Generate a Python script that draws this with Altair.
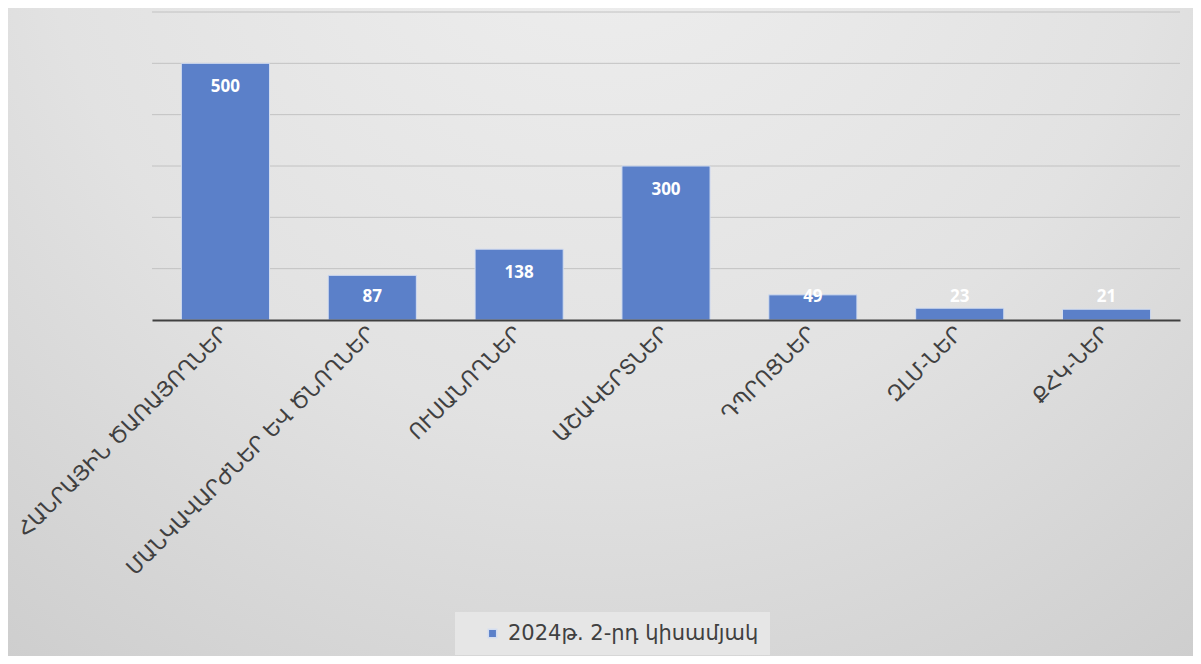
import altair as alt
import pandas as pd

categories = [
    "ՀԱՆՐԱՅԻՆ ԾԱՌԱՅՈՂՆԵՐ",
    "ՄԱՆԿԱՎԱՐԺՆԵՐ ԵՎ ԾՆՈՂՆԵՐ",
    "ՈՒՍԱՆՈՂՆԵՐ",
    "ԱՇԱԿԵՐՏՆԵՐ",
    "ԴՊՐՈՑՆԵՐ",
    "ԶԼՄ-ՆԵՐ",
    "ՔՀԿ-ՆԵՐ",
]
values = [500, 87, 138, 300, 49, 23, 21]
series_name = "2024թ. 2-րդ կիսամյակ"
y_ticks = [100, 200, 300, 400, 500, 600]

df = pd.DataFrame({"category": categories, "value": values, "series": series_name})
grid_df = pd.DataFrame({"tick": y_ticks})

W, H = 1028, 308
PAD_L, PAD_T, PAD_R, PAD_B = 144, 4, 13, 336
TOTAL_W = W + PAD_L + PAD_R
TOTAL_H = H + PAD_T + PAD_B

gradient = {
    "gradient": "radial",
    "x1": 0.5, "y1": 0.1, "r1": 0.0,
    "x2": 0.5, "y2": 0.1, "r2": 0.95,
    "stops": [
        {"offset": 0.0, "color": "#efefef"},
        {"offset": 0.5, "color": "#e2e2e2"},
        {"offset": 1.0, "color": "#c8c8c8"},
    ],
}

bg = alt.Chart(alt.Data(values=[{}])).mark_rect(color=gradient).encode(
    x=alt.value(-PAD_L), x2=alt.value(TOTAL_W - PAD_L),
    y=alt.value(-PAD_T), y2=alt.value(TOTAL_H - PAD_T),
)

grid = alt.Chart(grid_df).mark_rule(color="#c2c2c2", strokeWidth=1).encode(
    y=alt.Y("tick:Q", axis=None, scale=alt.Scale(domain=[0, 600])),
)

x_enc = alt.X(
    "category:N", sort=categories,
    scale=alt.Scale(paddingInner=0.4, paddingOuter=0.2),
    axis=alt.Axis(
        title=None, labelAngle=-45, labelAlign="right", labelBaseline="middle",
        labelFont="DejaVu Sans", labelFontSize=21, labelColor="#404040",
        labelPadding=10, labelLimit=600, ticks=False, grid=False,
        domainColor="#404040", domainWidth=2, zindex=1,
    ),
)

bars = alt.Chart(df).mark_bar(stroke="#d3ddf0", strokeWidth=1).encode(
    x=x_enc,
    y=alt.Y("value:Q", scale=alt.Scale(domain=[0, 600]), axis=None),
    color=alt.Color(
        "series:N", scale=alt.Scale(range=["#5b80c9"]),
        legend=alt.Legend(
            title=None, orient="none", legendX=303, legendY=600,
            fillColor="#e6e6e6", padding=11, symbolType="square",
            symbolSize=70, symbolOffset=16, labelFontSize=21,
            labelFont="DejaVu Sans", labelColor="#404040", labelLimit=500,
            labelOffset=5,
        ),
    ),
)

labels = alt.Chart(df).transform_calculate(
    labelpos="max(datum.value, 91)"
).mark_text(
    dy=24, color="white", fontWeight="bold", fontSize=17, font="Open Sans",
    baseline="middle",
).encode(
    x=alt.X("category:N", sort=categories),
    y=alt.Y("labelpos:Q"),
    text=alt.Text("value:Q"),
)

chart = alt.layer(bg, grid, bars, labels).properties(
    width=W, height=H,
    padding={"left": PAD_L, "top": PAD_T, "right": PAD_R, "bottom": PAD_B},
    autosize="none",
).configure_view(stroke=None)

chart.save("out.html", embed_options={"renderer": "svg", "actions": False})
